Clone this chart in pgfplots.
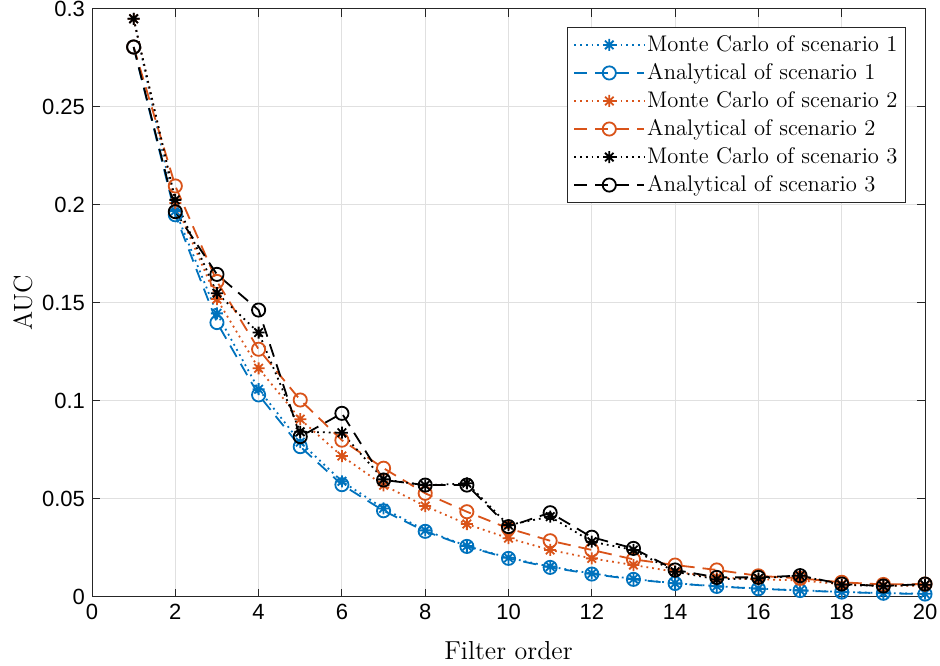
\documentclass[border=0pt]{standalone}
\usepackage{pgfplots}
\pgfplotsset{compat=1.18}
\usepackage{fontspec}
\newfontfamily\ticksf{Liberation Sans}
\definecolor{mblue}{rgb}{0,0.447,0.741}
\definecolor{morange}{rgb}{0.85,0.325,0.098}
\definecolor{maxis}{rgb}{0.15,0.15,0.15}
\definecolor{mgrid}{rgb}{0.88,0.88,0.88}
\pgfdeclareplotmark{mstar}{%
 \pgfpathmoveto{\pgfqpoint{-\pgfplotmarksize}{0pt}}\pgfpathlineto{\pgfqpoint{\pgfplotmarksize}{0pt}}%
 \pgfpathmoveto{\pgfqpoint{0pt}{-\pgfplotmarksize}}\pgfpathlineto{\pgfqpoint{0pt}{\pgfplotmarksize}}%
 \pgfpathmoveto{\pgfqpoint{-.707\pgfplotmarksize}{-.707\pgfplotmarksize}}\pgfpathlineto{\pgfqpoint{.707\pgfplotmarksize}{.707\pgfplotmarksize}}%
 \pgfpathmoveto{\pgfqpoint{-.707\pgfplotmarksize}{.707\pgfplotmarksize}}\pgfpathlineto{\pgfqpoint{.707\pgfplotmarksize}{-.707\pgfplotmarksize}}%
 \pgfusepathqstroke}
\pgfplotstableread{
x mc1 a1 mc2 a2 mc3 a3
1 0.295 0.2806 0.295 0.2806 0.295 0.2806
2 0.197 0.195 0.201 0.2097 0.2026 0.1966
3 0.1447 0.140 0.152 0.161 0.155 0.1646
4 0.106 0.1031 0.1167 0.1264 0.1349 0.1464
5 0.079 0.0767 0.0907 0.1005 0.0843 0.0818
6 0.059 0.0573 0.0719 0.080 0.0838 0.0937
7 0.0452 0.044 0.057 0.0657 0.060 0.0597
8 0.034 0.0335 0.0464 0.0529 0.057 0.0571
9 0.026 0.0258 0.0372 0.0435 0.058 0.0571
10 0.020 0.0197 0.030 0.035 0.0367 0.0359
11 0.0155 0.0151 0.024 0.0287 0.041 0.043
12 0.012 0.0117 0.0197 0.024 0.0282 0.0305
13 0.0092 0.009 0.0163 0.0192 0.024 0.0248
14 0.007 0.0069 0.0129 0.0163 0.0129 0.0138
15 0.0055 0.0054 0.0100 0.0138 0.009 0.010
16 0.0043 0.0042 0.009 0.0108 0.0095 0.010
17 0.0034 0.0033 0.0085 0.0095 0.0109 0.0109
18 0.0026 0.0025 0.0065 0.0075 0.0062 0.0066
19 0.0020 0.0019 0.0058 0.0064 0.0056 0.0056
20 0.0017 0.0015 0.0058 0.0066 0.0062 0.0066
}\data
\begin{document}
\begin{tikzpicture}
\begin{axis}[
  name=ax,
  scale only axis,
  width=416.5pt, height=294pt,
  xmin=0, xmax=20, ymin=0, ymax=0.3,
  xtick={0,2,...,20},
  ytick={0,0.05,0.1,0.15,0.2,0.25,0.3},
  scaled y ticks=false,
  yticklabel style={/pgf/number format/fixed,/pgf/number format/precision=2},
  /pgf/number format/assume math mode=true,
  tick label style={font=\ticksf\fontsize{11}{13}\selectfont},
  label style={font=\fontsize{13}{15}\selectfont},
  xlabel={Filter order},
  ylabel={AUC},
  xlabel style={yshift=-4pt},
  ylabel style={yshift=-2pt},
  grid=major,
  major grid style={mgrid, line width=0.5pt},
  axis line style={maxis, line width=0.5pt},
  tick style={maxis, line width=0.5pt},
  major tick length=4pt,
  tick align=inside,
  tick pos=both,
  every axis plot/.append style={line width=0.9pt},
  legend cell align=left,
  legend style={at={(1,1)}, anchor=north east, xshift=-9.5pt, yshift=-9pt,
    font=\fontsize{11.3}{13}\selectfont, draw=maxis, line width=0.5pt,
    row sep=0.5pt, inner xsep=3pt, inner ysep=2pt, nodes={inner xsep=1pt}},
  legend image code/.code={\draw[mark repeat=2,mark phase=2] plot coordinates {(0pt,0pt) (17.5pt,0pt) (35pt,0pt)};},
]
\addplot[mblue, dotted, mark=mstar, mark size=3pt, mark options={solid}] table[x=x,y=mc1] {\data};
\addlegendentry{Monte Carlo of scenario 1}
\addplot[mblue, dash pattern=on 6.5pt off 4pt, mark=o, mark size=3.3pt, mark options={solid}] table[x=x,y=a1] {\data};
\addlegendentry{Analytical of scenario 1}
\addplot[morange, dotted, mark=mstar, mark size=3pt, mark options={solid}] table[x=x,y=mc2] {\data};
\addlegendentry{Monte Carlo of scenario 2}
\addplot[morange, dash pattern=on 6.5pt off 4pt, mark=o, mark size=3.3pt, mark options={solid}] table[x=x,y=a2] {\data};
\addlegendentry{Analytical of scenario 2}
\addplot[black, dotted, mark=mstar, mark size=3pt, mark options={solid}] table[x=x,y=mc3] {\data};
\addlegendentry{Monte Carlo of scenario 3}
\addplot[black, dash pattern=on 6.5pt off 4pt, mark=o, mark size=3.3pt, mark options={solid}] table[x=x,y=a3] {\data};
\addlegendentry{Analytical of scenario 3}
\end{axis}
\pgfresetboundingbox
\path (ax.south west) ++(-46pt,-34.5pt) coordinate (bl);
\path (ax.north east) ++(7.5pt,4.5pt) coordinate (tr);
\path (bl) rectangle (tr);
\end{tikzpicture}
\end{document}
